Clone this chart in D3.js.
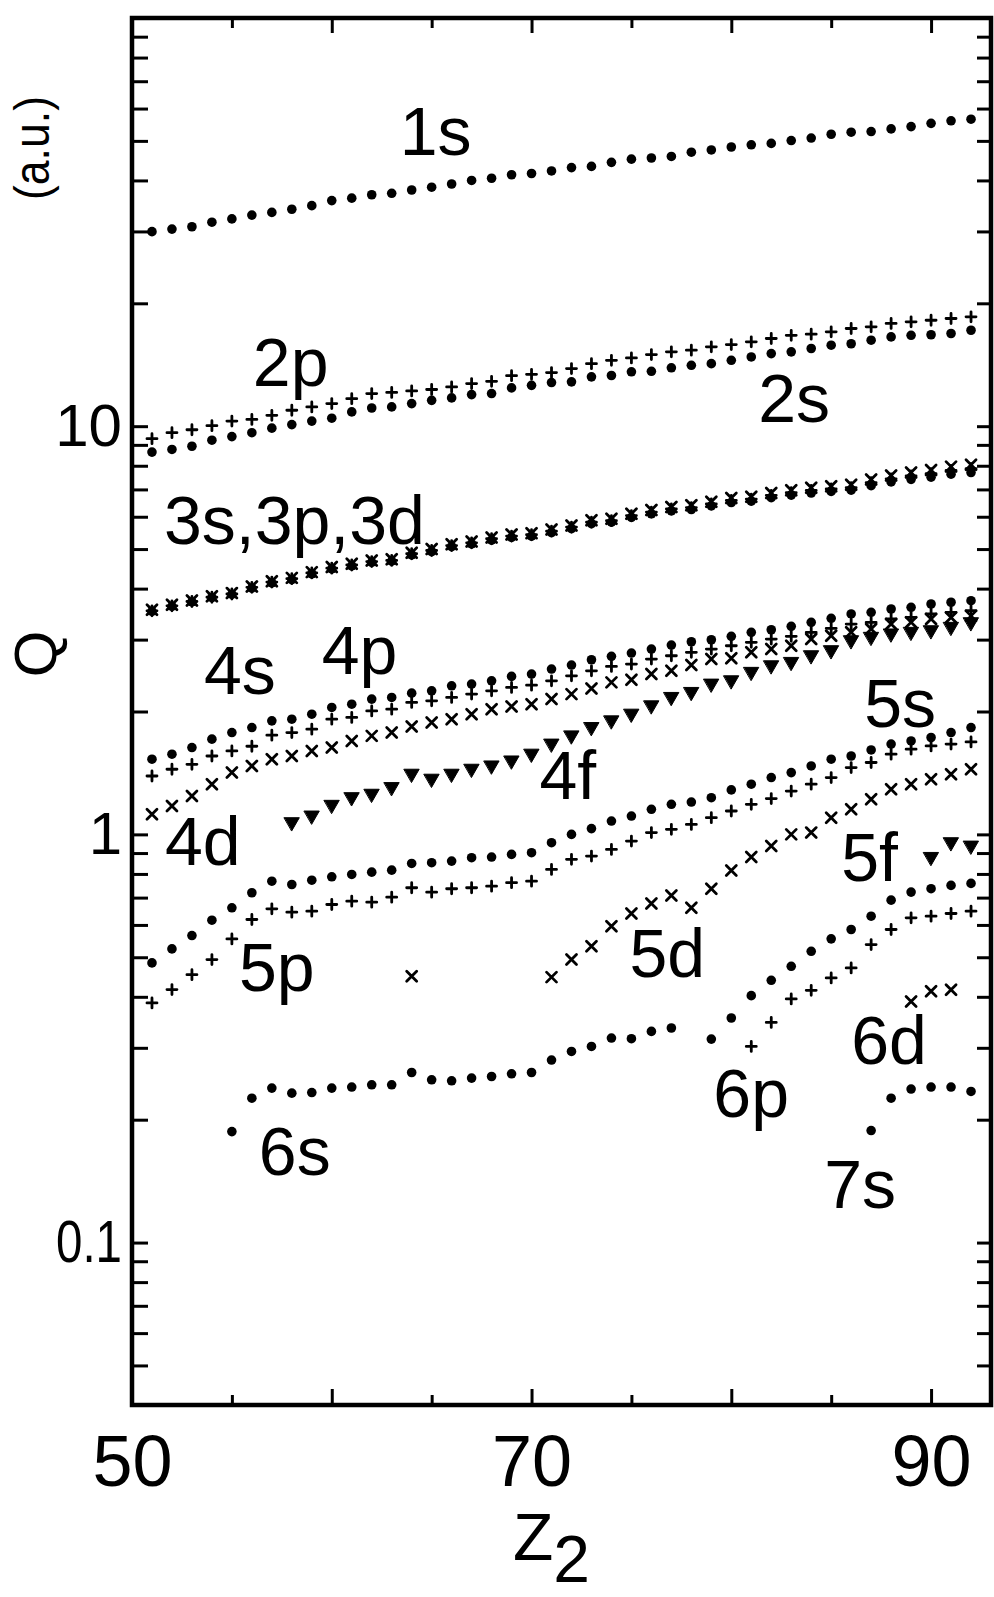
<!DOCTYPE html>
<html>
<head>
<meta charset="utf-8">
<script src="https://cdn.jsdelivr.net/npm/d3@7"></script>
<style>
  body { margin: 0; background: #fff; }
  svg { display: block; background: #fff; }
  text { font-family: "Liberation Sans", Arial, sans-serif; fill: #000; }
</style>
</head>
<body>
<div id="chart"></div>
<script>
// atomic number Z2 of the target
var zAll = [51,52,53,54,55,56,57,58,59,60,61,62,63,64,65,66,67,68,69,70,
            71,72,73,74,75,76,77,78,79,80,81,82,83,84,85,86,87,88,89,90,91,92];

// Q (a.u.) per shell
var q1s = [29.96,30.4,30.8,31.6,32.2,32.9,33.4,34.0,34.7,35.7,36.2,36.9,37.2,37.9,38.5,39.2,40.0,40.5,41.3,41.6,
           42.2,43.0,43.3,44.3,45.1,45.4,45.8,46.9,47.5,48.3,48.9,49.3,50.1,50.8,51.9,52.5,52.7,53.5,54.2,55.2,56.0,56.5];
var q2p = [9.32,9.64,9.80,10.03,10.29,10.39,10.63,10.94,11.15,11.36,11.68,12.02,12.1,12.2,12.3,12.48,12.72,12.88,13.30,13.4,
           13.53,13.84,14.23,14.50,14.70,14.98,15.21,15.35,15.65,15.85,16.09,16.40,16.70,16.8,17.03,17.35,17.52,17.85,18.02,18.18,18.36,18.53];
var q2s = [8.64,8.77,8.93,9.24,9.43,9.64,9.89,10.09,10.29,10.46,10.84,11.08,11.15,11.36,11.57,11.73,11.95,12.02,12.41,12.59,
           12.79,12.84,13.21,13.31,13.59,13.63,13.90,14.10,14.23,14.50,14.78,15.06,15.21,15.50,15.79,15.92,16.24,16.55,16.70,16.75,16.87,17.18];
var q3s = [3.52,3.62,3.71,3.80,3.87,4.01,4.13,4.21,4.35,4.47,4.55,4.64,4.67,4.84,4.93,5.07,5.15,5.26,5.34,5.38,
           5.49,5.61,5.77,5.82,5.98,6.10,6.20,6.25,6.38,6.50,6.55,6.68,6.78,6.86,6.92,6.97,7.15,7.30,7.41,7.50,7.63,7.70];
var q3p = [3.53,3.63,3.72,3.81,3.88,4.03,4.15,4.23,4.37,4.49,4.57,4.66,4.69,4.87,4.96,5.10,5.18,5.30,5.38,5.42,
           5.53,5.66,5.82,5.87,6.04,6.16,6.27,6.32,6.45,6.58,6.63,6.77,6.87,6.96,7.02,7.07,7.27,7.43,7.55,7.65,7.79,7.87];
var q3d = [3.55,3.65,3.74,3.83,3.90,4.05,4.17,4.25,4.39,4.52,4.60,4.69,4.72,4.90,5.00,5.14,5.22,5.34,5.43,5.47,
           5.58,5.71,5.88,5.93,6.10,6.23,6.34,6.40,6.53,6.67,6.72,6.86,6.97,7.07,7.13,7.19,7.40,7.57,7.70,7.81,7.96,8.05];
var q4s = [1.528,1.572,1.632,1.711,1.776,1.827,1.897,1.915,1.970,2.046,2.084,2.145,2.165,2.218,2.247,2.312,2.334,2.378,2.438,2.470,
           2.541,2.599,2.678,2.730,2.781,2.844,2.909,2.964,2.998,3.056,3.126,3.172,3.233,3.307,3.383,3.467,3.500,3.566,3.600,3.668,3.704,3.737];
var q4p = [1.390,1.444,1.485,1.556,1.601,1.644,1.75,1.776,1.810,1.915,1.934,2.007,2.026,2.105,2.124,2.165,2.206,2.247,2.291,2.320,
           2.378,2.446,2.516,2.579,2.613,2.688,2.739,2.792,2.844,2.898,2.954,3.010,3.056,3.126,3.197,3.275,3.307,3.370,3.402,3.467,3.500,3.532];
var q4d = [1.120,1.173,1.242,1.327,1.417,1.471,1.528,1.556,1.601,1.632,1.694,1.743,1.776,1.838,1.880,1.915,1.970,2.026,2.058,2.084,
           2.145,2.206,2.278,2.357,2.392,2.470,2.516,2.599,2.688,2.70,2.792,2.844,2.898,3.010,3.066,3.126,3.184,3.275,3.307,3.370,3.40,3.43];
var z4f = [58,59,60,61,62,63,64,65,66,67,68,69,70,71,72,73,74,75,76,77,78,79,80,81,82,83,84,85,86,87,88,89,90,91,92];
var q4f = [1.068,1.109,1.178,1.230,1.254,1.302,1.404,1.365,1.404,1.444,1.471,1.513,1.572,1.664,1.743,1.827,1.897,1.970,2.065,2.165,
           2.227,2.334,2.378,2.494,2.588,2.638,2.739,2.818,2.981,3.039,3.097,3.126,3.154,3.215,3.30];
var q5s = [0.4843,0.5242,0.5652,0.6163,0.6608,0.7194,0.7679,0.7537,0.7723,0.7873,0.7976,0.8081,0.8173,0.8488,0.8522,0.8601,0.8766,0.88,0.8932,0.9018,
           0.9541,1.0,1.033,1.078,1.109,1.152,1.185,1.200,1.230,1.285,1.327,1.378,1.417,1.471,1.528,1.556,1.610,1.664,1.694,1.727,1.776,1.827];
var q5p = [0.3864,0.4166,0.4533,0.4935,0.5546,0.6186,0.6572,0.6446,0.6483,0.6733,0.6860,0.6822,0.7018,0.7400,0.7218,0.7358,0.74,0.7467,0.7613,0.7682,
           0.8206,0.8685,0.8846,0.9188,0.9629,1.010,1.029,1.058,1.099,1.141,1.185,1.224,1.277,1.327,1.378,1.458,1.500,1.572,1.617,1.647,1.664,1.685];
var z5d = [64,71,72,73,74,75,76,77,78,79,80,81,82,83,84,85,86,87,88,89,90,91,92];
var q5d = [0.4490,0.4470,0.4935,0.5320,0.5957,0.6401,0.6771,0.7083,0.6608,0.7358,0.8159,0.8806,0.9361,1.0,1.010,1.099,1.152,1.219,1.290,1.327,1.365,1.404,1.444];
var z5f = [90,91,92];
var q5f = [0.878,0.954,0.936];
var z6s = [55,56,57,58,59,60,61,62,63,64,65,66,67,68,69,70,71,72,73,74,75,76,77,
           79,80,81,82,83,84,85,86,87,88,89,90,91,92];
var q6s = [0.1870,0.2258,0.2390,0.2323,0.2331,0.2390,0.2404,0.2435,0.2435,0.2610,0.2505,0.2491,0.2529,0.2552,0.2591,0.2610,0.2800,0.2939,0.3023,0.3170,0.3158,0.3291,0.3355,
           0.3151,0.3549,0.4026,0.4390,0.4752,0.5171,0.5547,0.5847,0.6303,0.6901,0.7220,0.7360,0.7498,0.7584];
var z6p = [81,82,83,84,85,86,87,88,89,90,91,92];
var q6p = [0.3023,0.3462,0.3952,0.4149,0.4450,0.4709,0.5372,0.5847,0.6246,0.6303,0.6400,0.6485];
var z6d = [89,90,91];
var q6d = [0.3898,0.4126,0.4165];
var z7s = [87,88,89,90,91,92];
var q7s = [0.1881,0.2258,0.2377,0.2404,0.2404,0.2345];

// shell labels, anchored in data units
var labels = [
  {text: "1s", z: 63.4, q: 46.1},
  {text: "2p", z: 56.05, q: 12.51},
  {text: "2s", z: 81.35, q: 10.26},
  {text: "3s,3p,3d", z: 51.6, q: 5.15},
  {text: "4s", z: 53.6, q: 2.208},
  {text: "4p", z: 59.5, q: 2.472},
  {text: "4d", z: 51.65, q: 0.840},
  {text: "4f", z: 70.4, q: 1.220},
  {text: "5s", z: 86.65, q: 1.832},
  {text: "5f", z: 85.5, q: 0.768},
  {text: "5p", z: 55.35, q: 0.4124},
  {text: "5d", z: 74.9, q: 0.4464},
  {text: "6s", z: 56.35, q: 0.1467},
  {text: "6p", z: 79.1, q: 0.2035},
  {text: "6d", z: 86.0, q: 0.2731},
  {text: "7s", z: 84.65, q: 0.1217}
];

// axis ticks
var xLongTicks = [50, 60, 70, 80, 90];
var xShortTicks = [55, 65, 75, 85];
var xTickLabels = [50, 70, 90];
var yTicks = [0.05,0.06,0.07,0.08,0.09,0.1,0.2,0.3,0.4,0.5,0.6,0.7,0.8,0.9,
              1,2,3,4,5,6,7,8,9,10,20,30,40,50,60,70,80,90];
var yTickLabels = [0.1, 1, 10];

// series table: symbol per shell type
var series = [
  {z: zAll, q: q1s, mark: "dot"},
  {z: zAll, q: q2s, mark: "dot"},
  {z: zAll, q: q2p, mark: "plus"},
  {z: zAll, q: q3s, mark: "dot"},
  {z: zAll, q: q3p, mark: "plus"},
  {z: zAll, q: q3d, mark: "cross"},
  {z: zAll, q: q4s, mark: "dot"},
  {z: zAll, q: q4p, mark: "plus"},
  {z: zAll, q: q4d, mark: "cross"},
  {z: z4f, q: q4f, mark: "tri"},
  {z: zAll, q: q5s, mark: "dot"},
  {z: zAll, q: q5p, mark: "plus"},
  {z: z5d, q: q5d, mark: "cross"},
  {z: z5f, q: q5f, mark: "tri"},
  {z: z6s, q: q6s, mark: "dot"},
  {z: z6p, q: q6p, mark: "plus"},
  {z: z6d, q: q6d, mark: "cross"},
  {z: z7s, q: q7s, mark: "dot"}
];

var width = 994, height = 1597;
var plot = {left: 132, right: 991, top: 18, bottom: 1405};

var svg = d3.select("#chart").append("svg")
  .attr("width", width)
  .attr("height", height);

var x = d3.scaleLinear().domain([50, 93]).range([plot.left, plot.right]);
var y = d3.scaleLog().domain([0.04, 100]).range([plot.bottom, plot.top]);

// ticks (all pointing inward)
function styleAxis(g, fontSize) {
  g.select(".domain").remove();
  g.selectAll(".tick line").attr("stroke", "#000").attr("stroke-width", 3);
  g.attr("font-family", null).attr("font-size", null);
  g.selectAll(".tick text")
    .style("font-family", "'Liberation Sans', Arial, sans-serif")
    .style("font-size", fontSize + "px")
    .attr("fill", "#000");
}

var yAxisG = svg.append("g")
  .attr("transform", "translate(" + plot.left + ",0)")
  .call(d3.axisLeft(y).tickValues(yTicks).tickSizeInner(-16).tickSizeOuter(0).tickPadding(10)
    .tickFormat(function(d) { return yTickLabels.indexOf(d) >= 0 ? String(d) : ""; }))
  .call(styleAxis, 60);
// the original lettering is narrow
yAxisG.selectAll(".tick text")
  .filter(function(d) { return d === 0.1; })
  .attr("textLength", 66)
  .attr("lengthAdjust", "spacingAndGlyphs");

svg.append("g")
  .attr("transform", "translate(" + plot.right + ",0)")
  .call(d3.axisRight(y).tickValues(yTicks).tickSizeInner(-14).tickSizeOuter(0).tickFormat(""))
  .call(styleAxis, 10);

svg.append("g")
  .attr("transform", "translate(0," + plot.bottom + ")")
  .call(d3.axisBottom(x).tickValues(xLongTicks).tickSizeInner(-16).tickSizeOuter(0).tickPadding(30)
    .tickFormat(function(d) { return xTickLabels.indexOf(d) >= 0 ? String(d) : ""; }))
  .call(styleAxis, 72);

svg.append("g")
  .attr("transform", "translate(0," + plot.bottom + ")")
  .call(d3.axisBottom(x).tickValues(xShortTicks).tickSizeInner(-10).tickSizeOuter(0).tickFormat(""))
  .call(styleAxis, 10);

svg.append("g")
  .attr("transform", "translate(0," + plot.top + ")")
  .call(d3.axisTop(x).tickValues(xLongTicks.slice(1)).tickSizeInner(-15).tickSizeOuter(0).tickFormat(""))
  .call(styleAxis, 10);

svg.append("g")
  .attr("transform", "translate(0," + plot.top + ")")
  .call(d3.axisTop(x).tickValues(xShortTicks).tickSizeInner(-10).tickSizeOuter(0).tickFormat(""))
  .call(styleAxis, 10);

// frame
svg.append("rect")
  .attr("x", plot.left).attr("y", plot.top)
  .attr("width", plot.right - plot.left).attr("height", plot.bottom - plot.top)
  .attr("fill", "none").attr("stroke", "#000").attr("stroke-width", 4.5);

// markers
var markPaths = {
  plus: "M-5,0H5M0,-5V5",
  cross: "M-5,-5L5,5M-5,5L5,-5",
  tri: "M-7.5,-5L7.5,-5L0,8Z"
};

series.forEach(function(s) {
  var pts = s.z.map(function(z, i) { return {z: z, q: s.q[i]}; });
  var g = svg.append("g");
  if (s.mark === "dot") {
    g.selectAll("circle").data(pts).enter().append("circle")
      .attr("cx", function(d) { return x(d.z); })
      .attr("cy", function(d) { return y(d.q); })
      .attr("r", 4.8)
      .attr("fill", "#000");
  } else {
    g.selectAll("path").data(pts).enter().append("path")
      .attr("transform", function(d) { return "translate(" + x(d.z) + "," + y(d.q) + ")"; })
      .attr("d", markPaths[s.mark])
      .attr("fill", s.mark === "tri" ? "#000" : "none")
      .attr("stroke", "#000")
      .attr("stroke-width", s.mark === "tri" ? 1 : 2.8)
      .attr("stroke-linejoin", "round")
      .attr("stroke-linecap", "round");
  }
});

// shell labels
svg.selectAll(".shell")
  .data(labels)
  .enter().append("text")
  .attr("class", "shell")
  .attr("x", function(d) { return x(d.z); })
  .attr("y", function(d) { return y(d.q); })
  .attr("font-size", "68px")
  .text(function(d) { return d.text; });

// axis titles
svg.append("text")
  .attr("transform", "translate(56,654) rotate(-90)")
  .attr("text-anchor", "middle")
  .attr("font-size", "60px")
  .text("Q");

svg.append("text")
  .attr("transform", "translate(49,148) rotate(-90)")
  .attr("text-anchor", "middle")
  .attr("font-size", "50px")
  .attr("textLength", 104)
  .attr("lengthAdjust", "spacingAndGlyphs")
  .text("(a.u.)");

var zTitle = svg.append("text")
  .attr("x", 513).attr("y", 1560)
  .attr("font-size", "66px")
  .text("Z");
zTitle.append("tspan")
  .attr("dy", 22)
  .text("2");
</script>
</body>
</html>
